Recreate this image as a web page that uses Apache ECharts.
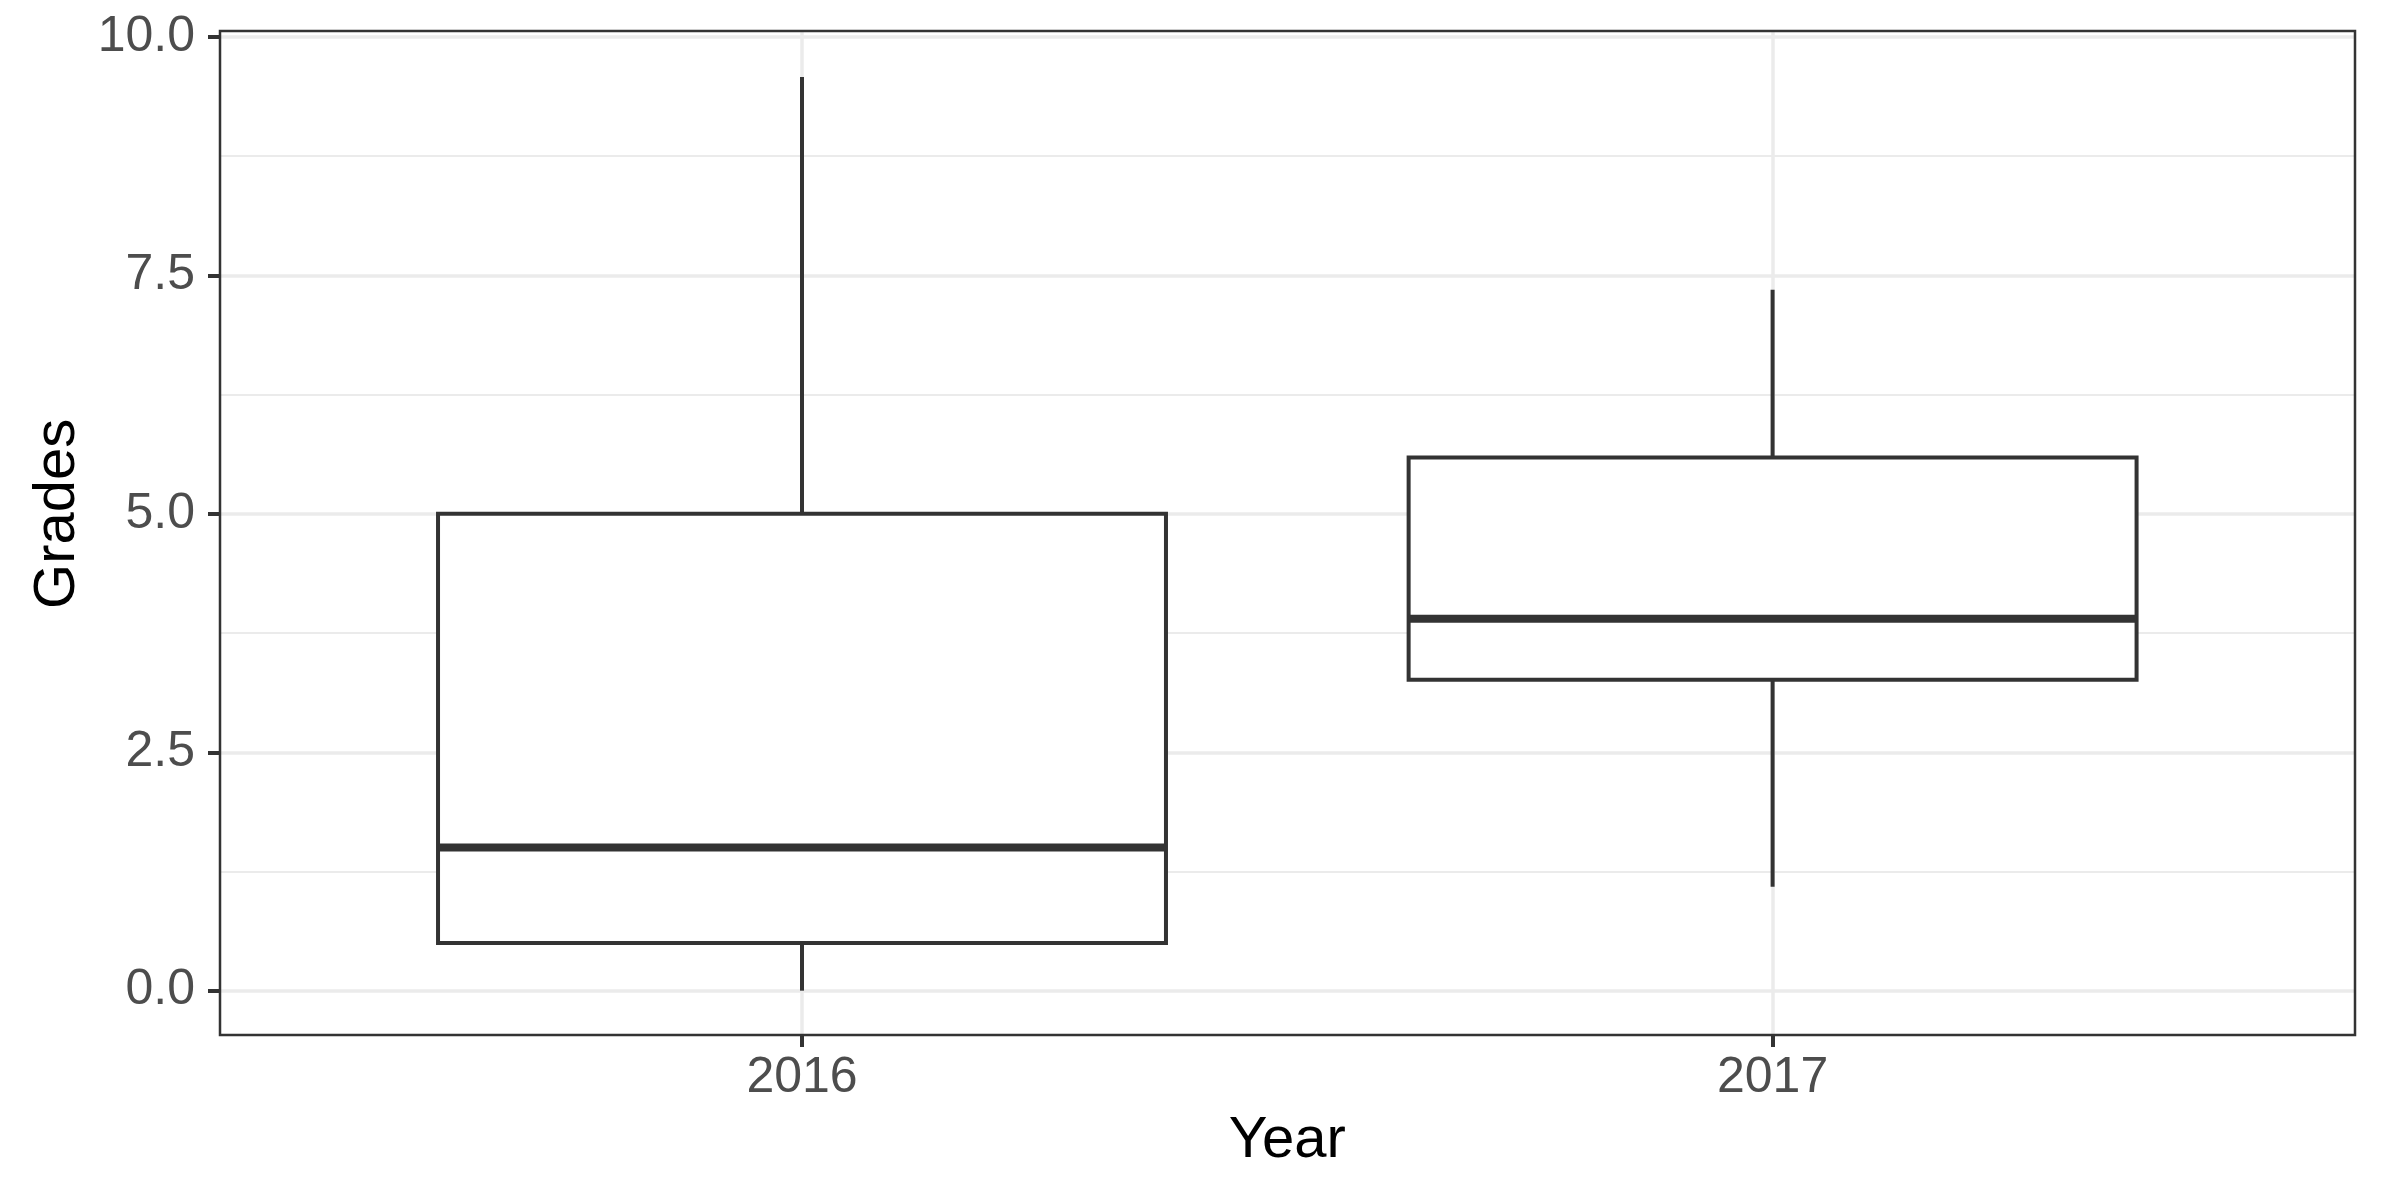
<!DOCTYPE html>
<html>
<head>
<meta charset="utf-8">
<script src="https://cdn.jsdelivr.net/npm/echarts@6/dist/echarts.min.js"></script>
<style>
html,body{margin:0;padding:0;background:#fff;}
#c{width:2383px;height:1179px;}
</style>
</head>
<body>
<div id="c"></div>
<script>
// ---- data ----
const years = ['2016', '2017'];
const whiskerLow = [0, 1.09];
const q1 = [0.5, 3.26];
const median = [1.5, 3.9];
const q3 = [5.0, 5.59];
const whiskerHigh = [9.58, 7.35];
const yTickLabels = ['0.0', '2.5', '5.0', '7.5', '10.0'];

const boxData = years.map((y, i) => [y, whiskerLow[i], q1[i], median[i], q3[i], whiskerHigh[i]]);

const FONT = '"Liberation Sans", Arial, sans-serif';
const LINE = '#333333';

const chart = echarts.init(document.getElementById('c'), null, {renderer: 'canvas'});

function renderItem(params, api) {
  const lo = api.value(1), a = api.value(2), m = api.value(3), b = api.value(4), hi = api.value(5);
  const idx = params.dataIndex;
  const pLo = api.coord([idx, lo]);
  const pA = api.coord([idx, a]);
  const pM = api.coord([idx, m]);
  const pB = api.coord([idx, b]);
  const pHi = api.coord([idx, hi]);
  const band = api.coord([1, 0])[0] - api.coord([0, 0])[0];
  const half = band * 0.75 / 2;
  const x = pM[0];
  const lw = 4;
  return {
    type: 'group',
    children: [
      {type: 'line', shape: {x1: x, y1: pB[1], x2: x, y2: pHi[1]}, style: {stroke: LINE, lineWidth: lw}},
      {type: 'line', shape: {x1: x, y1: pLo[1], x2: x, y2: pA[1]}, style: {stroke: LINE, lineWidth: lw}},
      {type: 'rect', shape: {x: x - half, y: pB[1], width: half * 2, height: pA[1] - pB[1]},
        style: {fill: '#ffffff', stroke: LINE, lineWidth: lw, lineJoin: 'miter'}},
      {type: 'line', shape: {x1: x - half, y1: pM[1], x2: x + half, y2: pM[1]}, style: {stroke: LINE, lineWidth: 8}}
    ]
  };
}

const option = {
  backgroundColor: '#ffffff',
  animation: false,
  grid: [
    // frame
    {left: 220, top: 31, width: 2135, height: 1004, show: true, borderColor: LINE, borderWidth: 2.5,
      backgroundColor: 'transparent', z: 5, containLabel: false, outerBoundsMode: 'none'},
    // horizontal gridlines and y labels
    {left: 220, top: 37, width: 2135, height: 953.7, show: false, containLabel: false, outerBoundsMode: 'none'},
    // series, vertical gridlines, x labels
    {left: 802, top: 31, width: 970.6, height: 1004, show: false, containLabel: false, outerBoundsMode: 'none'}
  ],
  xAxis: [
    {gridIndex: 0, type: 'value', show: false, min: 0, max: 1},
    {gridIndex: 1, type: 'value', show: false, min: 0, max: 1},
    {
      gridIndex: 2, type: 'category', data: years, boundaryGap: false, position: 'bottom',
      axisLine: {show: false, onZero: false},
      axisTick: {show: true, length: 12, lineStyle: {color: LINE, width: 4}},
      axisLabel: {color: '#4D4D4D', fontFamily: FONT, fontSize: 50, margin: 18},
      splitLine: {show: true, lineStyle: {color: '#EBEBEB', width: 3.5}},
      name: 'Year', nameLocation: 'middle', nameGap: 77,
      nameTextStyle: {color: '#000000', fontFamily: FONT, fontSize: 58}
    }
  ],
  yAxis: [
    {gridIndex: 0, type: 'value', show: false, min: 0, max: 1},
    {
      gridIndex: 1, type: 'value', min: 0, max: 10, interval: 2.5,
      axisLine: {show: false},
      axisTick: {show: true, length: 12, lineStyle: {color: LINE, width: 4}},
      axisLabel: {color: '#4D4D4D', fontFamily: FONT, fontSize: 50, margin: 25,
        formatter: (v) => yTickLabels[Math.round(v / 2.5)]},
      splitLine: {show: true, lineStyle: {color: '#EBEBEB', width: 3.5}},
      minorTick: {show: false, splitNumber: 2},
      minorSplitLine: {show: true, lineStyle: {color: '#EBEBEB', width: 1.8}},
      name: 'Grades', nameLocation: 'middle', nameGap: 130, nameRotate: 90,
      nameTextStyle: {color: '#000000', fontFamily: FONT, fontSize: 58}
    },
    {gridIndex: 2, type: 'value', show: false, min: -0.465, max: 10.063}
  ],
  series: [{
    type: 'custom',
    xAxisIndex: 2, yAxisIndex: 2,
    clip: false,
    renderItem: renderItem,
    data: boxData,
    z: 3
  }]
};
chart.setOption(option);
</script>
</body>
</html>
